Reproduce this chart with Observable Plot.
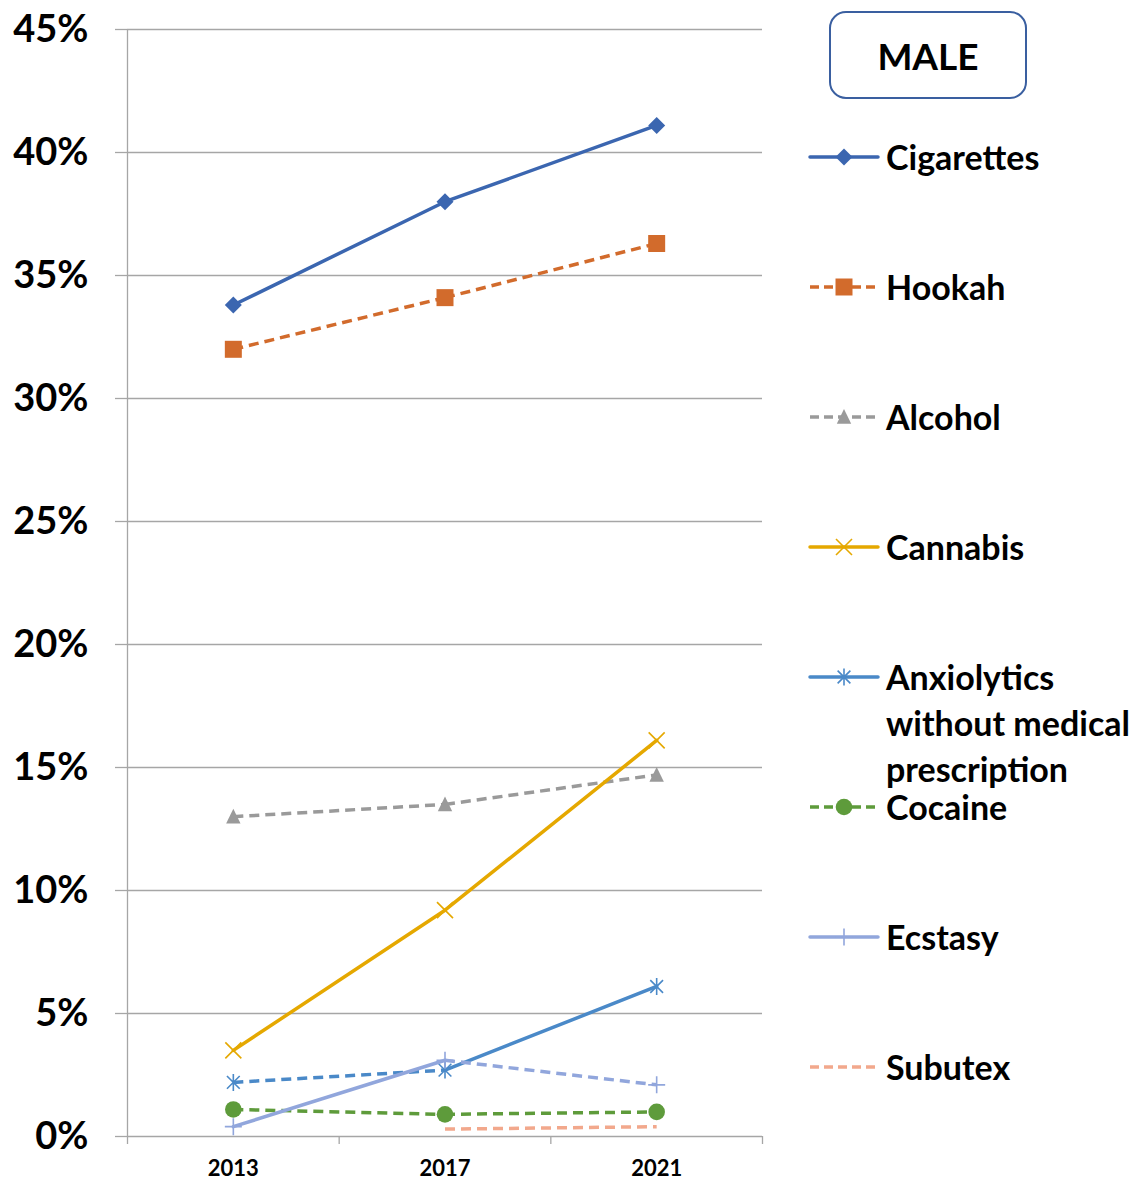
<!DOCTYPE html>
<html>
<head>
<meta charset="utf-8">
<script src="https://cdn.jsdelivr.net/npm/d3@7"></script>
<script src="https://cdn.jsdelivr.net/npm/@observablehq/plot@0.6"></script>
<style>
  html, body { margin: 0; padding: 0; background: #fff; }
  #wrap { position: relative; width: 1143px; height: 1182px; font-family: Lato, sans-serif; font-weight: bold; color: #000; }
  #chart { position: absolute; left: 0; top: 0; }
  .box { position: absolute; left: 829px; top: 11px; width: 194px; height: 84px; border: 2.5px solid #3A5FA0; border-radius: 17px; display: flex; align-items: center; justify-content: center; font-size: 37px; }
  .item { position: absolute; left: 886px; font-size: 34px; line-height: 46px; white-space: nowrap; }
  .sw { position: absolute; left: 806px; }
</style>
</head>
<body>
<div id="wrap">
  <div id="chart"></div>
  <div class="box">MALE</div>
</div>
<script>
// ---- data ----
const years = ["2013", "2017", "2021"];
const series = ["Cigarettes", "Hookah", "Alcohol", "Cannabis", "Anxiolytics without medical prescription", "Cocaine", "Ecstasy", "Subutex"];
const legendLines = [["Cigarettes"], ["Hookah"], ["Alcohol"], ["Cannabis"], ["Anxiolytics", "without medical", "prescription"], ["Cocaine"], ["Ecstasy"], ["Subutex"]];
const cigarettes  = [33.8, 38.0, 41.1];
const hookah      = [32.0, 34.1, 36.3];
const alcohol     = [13.0, 13.5, 14.7];
const cannabis    = [3.5, 9.2, 16.1];
const anxiolytics = [2.2, 2.7, 6.1];
const cocaine     = [1.1, 0.9, 1.0];
const ecstasy     = [0.4, 3.1, 2.1];
const subutex     = [null, 0.3, 0.4];
const yTicks = [0, 5, 10, 15, 20, 25, 30, 35, 40, 45];

const values = [cigarettes, hookah, alcohol, cannabis, anxiolytics, cocaine, ecstasy, subutex];

// ---- symbols (half-extent r = sqrt(size/PI)) ----
const sym = (f) => ({draw(ctx, size) { f(ctx, Math.sqrt(size / Math.PI)); }});
const diamond = sym((c, r) => { c.moveTo(0, -r); c.lineTo(r, 0); c.lineTo(0, r); c.lineTo(-r, 0); c.closePath(); });
const square = sym((c, r) => { c.moveTo(-r, -r); c.lineTo(r, -r); c.lineTo(r, r); c.lineTo(-r, r); c.closePath(); });
const triangle = sym((c, r) => { c.moveTo(0, -r); c.lineTo(r * 0.9, r * 0.85); c.lineTo(-r * 0.9, r * 0.85); c.closePath(); });
const times = sym((c, r) => { c.moveTo(-r, -r); c.lineTo(r, r); c.moveTo(-r, r); c.lineTo(r, -r); });
const star = sym((c, r) => { const a = r * 0.75; c.moveTo(0, -r); c.lineTo(0, r); c.moveTo(-a, -a); c.lineTo(a, a); c.moveTo(-a, a); c.lineTo(a, -a); });
const circle = sym((c, r) => { c.moveTo(r, 0); c.arc(0, 0, r, 0, 2 * Math.PI); c.closePath(); });
const plus = sym((c, r) => { c.moveTo(0, -r); c.lineTo(0, r); c.moveTo(-r, 0); c.lineTo(r, 0); });

// ---- styles ----
const styles = [
  {color: "#3B66B0", symbol: diamond, r: 8.5, filled: true, seg: ["solid", "solid"], leg: "solid"},
  {color: "#D26B2C", symbol: square, r: 8.5, filled: true, seg: ["dash", "dash"], leg: "dash"},
  {color: "#9A9A9A", symbol: triangle, r: 8, filled: true, seg: ["dash", "dash"], leg: "dash"},
  {color: "#E5A800", symbol: times, r: 8, filled: false, seg: ["solid", "solid"], leg: "solid"},
  {color: "#4A89C8", symbol: star, r: 8.5, filled: false, seg: ["dash", "solid"], leg: "solid"},
  {color: "#5E9B3B", symbol: circle, r: 8.3, filled: true, seg: ["dash", "dash"], leg: "dash"},
  {color: "#91A6DC", symbol: plus, r: 8.5, filled: false, seg: ["solid", "dash"], leg: "solid"},
  {color: "#F2A88C", symbol: null, r: 0, filled: false, seg: ["dash", "dash"], leg: "dash"}
];
const dashArr = "10,6";
const grey = "#A6A6A6";

const seriesMarks = series.flatMap((s, k) => {
  const v = values[k], st = styles[k];
  const segs = [0, 1].filter(i => v[i] != null && v[i + 1] != null)
    .map(i => ({x1: i, x2: i + 1, y1: v[i], y2: v[i + 1], dashed: st.seg[i] === "dash"}));
  const pts = v.map((y, i) => ({x: i, y})).filter(d => d.y != null);
  const marks = [
    Plot.link(segs.filter(d => !d.dashed), {x1: "x1", y1: "y1", x2: "x2", y2: "y2", stroke: st.color, strokeWidth: 3.5, strokeLinecap: "round"}),
    Plot.link(segs.filter(d => d.dashed), {x1: "x1", y1: "y1", x2: "x2", y2: "y2", stroke: st.color, strokeWidth: 3.5, strokeDasharray: dashArr, strokeLinecap: "butt"})
  ];
  if (st.symbol) {
    marks.push(Plot.dot(pts, {x: "x", y: "y", symbol: st.symbol, r: st.r,
      fill: st.filled ? st.color : "none", stroke: st.filled ? "none" : st.color, strokeWidth: 1.6}));
  }
  return marks;
});

const chart = Plot.plot({
  width: 770,
  height: 1182,
  marginLeft: 127,
  marginRight: 8,
  marginTop: 29,
  marginBottom: 46,
  x: {domain: [-0.5, 2.5], axis: null},
  y: {domain: [0, 45], axis: null},
  style: {fontFamily: "Lato, sans-serif", fontWeight: "bold", color: "#000", background: "transparent", overflow: "visible"},
  marks: [
    Plot.gridY(yTicks.filter(d => d > 0), {stroke: grey, strokeOpacity: 1, strokeWidth: 1.3}),
    Plot.axisY(yTicks, {tickSize: 12, tickPadding: 27, tickFormat: d => `${d}%`, fontSize: 38, fontWeight: "bold", stroke: grey, strokeWidth: 1.3, label: null}),
    Plot.axisX([-0.5, 0.5, 1.5, 2.5], {tickSize: 8, tickFormat: () => "", stroke: grey, strokeWidth: 1.3, label: null}),
    Plot.axisX([0, 1, 2], {tickSize: 0, tickPadding: 24, tickFormat: i => years[i], fontSize: 22, fontWeight: "bold", label: null}),
    Plot.ruleY([0], {stroke: grey, strokeWidth: 1.3}),
    Plot.ruleX([-0.5], {stroke: grey, strokeWidth: 1.3}),
    ...seriesMarks
  ]
});
document.getElementById("chart").appendChild(chart);

// ---- legend ----
const wrap = document.getElementById("wrap");
const legendY = [157, 287, 417, 547, 677, 807, 937, 1067];
series.forEach((s, k) => {
  const st = styles[k], cy = legendY[k];
  const svg = d3.create("svg").attr("class", "sw").attr("width", 76).attr("height", 30)
    .style("top", (cy - 15) + "px");
  svg.append("line").attr("x1", 4).attr("x2", 72).attr("y1", 15).attr("y2", 15)
    .attr("stroke", st.color).attr("stroke-width", 3.5)
    .attr("stroke-dasharray", st.leg === "dash" ? "9,5" : null)
    .attr("stroke-linecap", st.leg === "dash" ? "butt" : "round");
  if (st.symbol) {
    const p = d3.path();
    st.symbol.draw(p, Math.PI * st.r * st.r);
    svg.append("path").attr("transform", "translate(38,15)").attr("d", p.toString())
      .attr("fill", st.filled ? st.color : "none").attr("stroke", st.filled ? "none" : st.color).attr("stroke-width", 1.6);
  }
  wrap.appendChild(svg.node());
  const div = document.createElement("div");
  div.className = "item";
  div.style.top = (cy - 23) + "px";
  div.innerHTML = legendLines[k].join("<br>");
  wrap.appendChild(div);
});
</script>
</body>
</html>
